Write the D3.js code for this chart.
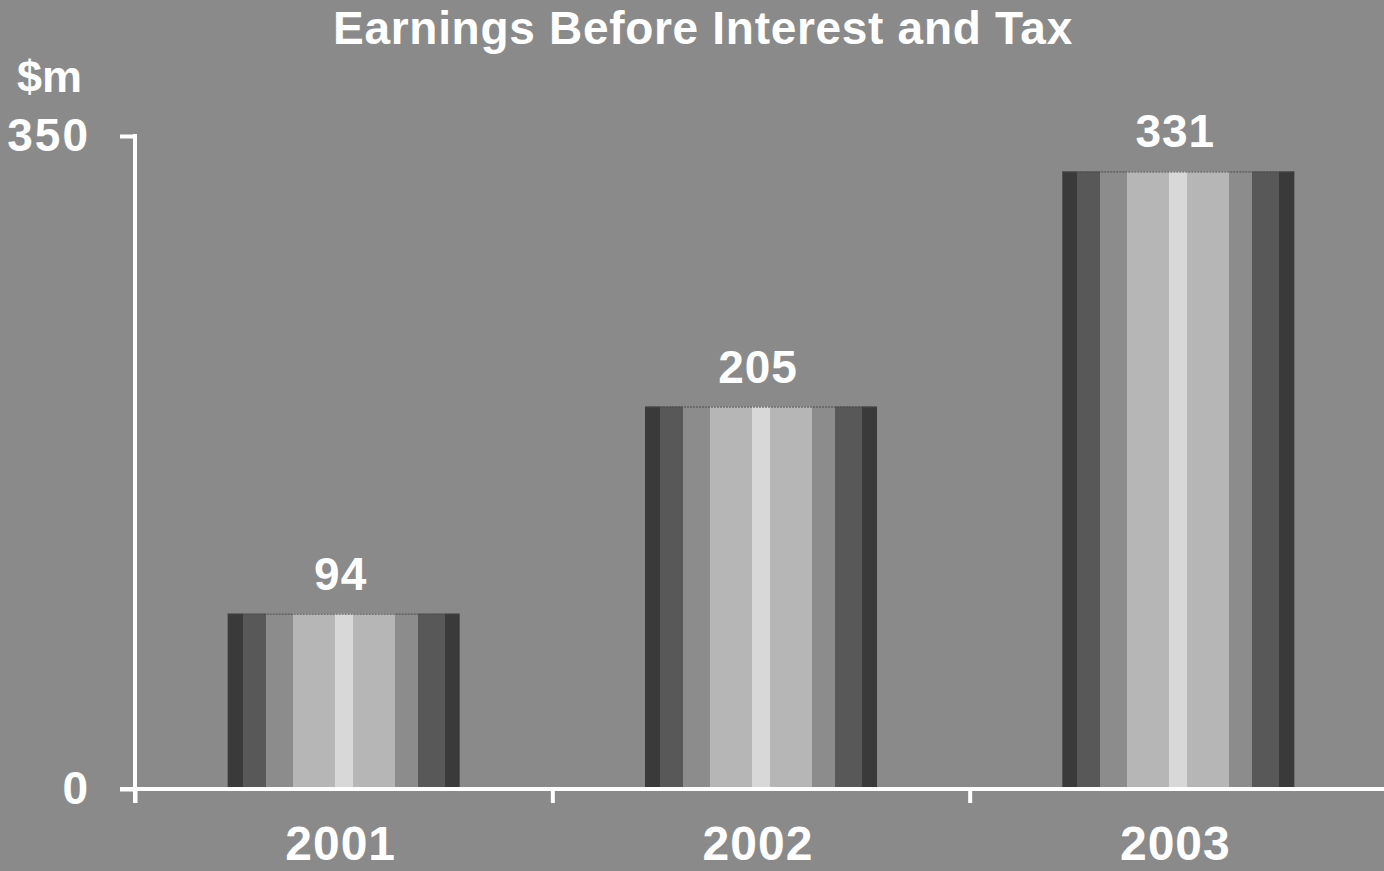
<!DOCTYPE html>
<html>
<head>
<meta charset="utf-8">
<script src="https://cdn.jsdelivr.net/npm/d3@7"></script>
<style>
  html, body { margin: 0; padding: 0; background: #8a8a8a; }
  svg { display: block; }
  text { font-family: "Liberation Sans", Arial, Helvetica, sans-serif; font-weight: bold; fill: #ffffff; }
</style>
</head>
<body>
<svg id="chart" width="1384" height="871"></svg>
<script>
// EBIT by year, $m
const years = ["2001", "2002", "2003"];
const ebit = [94, 205, 331];
const yTicks = [0, 350];
const titleText = "Earnings Before Interest and Tax";
const unitText = "$m";

const W = 1384, H = 871;
const plot = { left: 135, right: 1387, top: 136, bottom: 789 };

const svg = d3.select("#chart");
svg.append("rect").attr("width", W).attr("height", H).attr("fill", "#8a8a8a");

// Cylinder-like vertical shading for the columns
const bands = [
  [0.000, 0.065, "#3a3a3a"],
  [0.065, 0.164, "#585858"],
  [0.164, 0.280, "#8c8c8c"],
  [0.280, 0.461, "#b6b6b6"],
  [0.461, 0.539, "#d8d8d8"],
  [0.539, 0.720, "#b6b6b6"],
  [0.720, 0.819, "#8c8c8c"],
  [0.819, 0.935, "#585858"],
  [0.935, 1.000, "#3a3a3a"]
];
const grad = svg.append("defs").append("linearGradient")
  .attr("id", "colShade").attr("x1", 0).attr("x2", 1).attr("y1", 0).attr("y2", 0);
bands.forEach(([a, b, c]) => {
  grad.append("stop").attr("offset", a).attr("stop-color", c);
  grad.append("stop").attr("offset", b).attr("stop-color", c);
});

const x = d3.scaleBand().domain(years).range([plot.left, plot.right])
  .paddingInner(0.444).paddingOuter(0.222);
const xEdge = d3.scaleLinear().domain([0, years.length]).range([plot.left, plot.right]);
const y = d3.scaleLinear().domain([0, 350]).range([plot.bottom, plot.top]);

// Columns
const bars = svg.append("g");
bars.selectAll("rect").data(years).join("rect")
  .attr("x", d => x(d))
  .attr("y", (d, i) => y(ebit[i]))
  .attr("width", x.bandwidth())
  .attr("height", (d, i) => y(0) - y(ebit[i]))
  .attr("fill", "url(#colShade)");
bars.selectAll("line").data(years).join("line")
  .attr("x1", d => x(d)).attr("x2", d => x(d) + x.bandwidth())
  .attr("y1", (d, i) => y(ebit[i]) + 0.5).attr("y2", (d, i) => y(ebit[i]) + 0.5)
  .attr("stroke", "#4a4a4a").attr("stroke-width", 1).attr("stroke-dasharray", "2,1");

// Value labels
svg.append("g").selectAll("text").data(years).join("text")
  .attr("x", d => x(d) + x.bandwidth() / 2 - 3)
  .attr("y", (d, i) => y(ebit[i]) - 24)
  .attr("text-anchor", "middle")
  .attr("font-size", 46)
  .attr("letter-spacing", 1)
  .text((d, i) => ebit[i]);

// Y axis
const yAxis = svg.append("g").attr("transform", `translate(${plot.left},0)`)
  .call(d3.axisLeft(y).tickValues(yTicks).tickSize(15).tickPadding(30));
yAxis.select(".domain").remove();
yAxis.selectAll(".tick line").attr("stroke", "#ffffff").attr("stroke-width", 4);
yAxis.selectAll(".tick text")
  .attr("fill", "#ffffff").attr("font-size", 46).attr("letter-spacing", 2)
  .attr("font-family", "'Liberation Sans', Arial, sans-serif").attr("font-weight", "bold");
svg.append("line")
  .attr("x1", plot.left).attr("x2", plot.left)
  .attr("y1", y(350) - 2).attr("y2", plot.bottom + 14)
  .attr("stroke", "#ffffff").attr("stroke-width", 4);

// X axis
const xAxis = svg.append("g").attr("transform", `translate(0,${plot.bottom})`)
  .call(d3.axisBottom(xEdge).tickValues(d3.range(years.length + 1)).tickFormat("").tickSize(14));
xAxis.select(".domain").remove();
xAxis.selectAll(".tick line").attr("stroke", "#ffffff").attr("stroke-width", 4);
svg.append("line")
  .attr("x1", plot.left - 15).attr("x2", W)
  .attr("y1", plot.bottom).attr("y2", plot.bottom)
  .attr("stroke", "#ffffff").attr("stroke-width", 4);

svg.append("g").selectAll("text").data(years).join("text")
  .attr("x", d => x(d) + x.bandwidth() / 2 - 3)
  .attr("y", 860)
  .attr("text-anchor", "middle")
  .attr("font-size", 48)
  .attr("letter-spacing", 1)
  .text(d => d);

// Title and unit
svg.append("text")
  .attr("x", 703).attr("y", 44)
  .attr("text-anchor", "middle")
  .attr("font-size", 46)
  .attr("letter-spacing", 0.7)
  .text(titleText);
svg.append("text")
  .attr("x", 17).attr("y", 92)
  .attr("font-size", 45)
  .text(unitText);
</script>
</body>
</html>
